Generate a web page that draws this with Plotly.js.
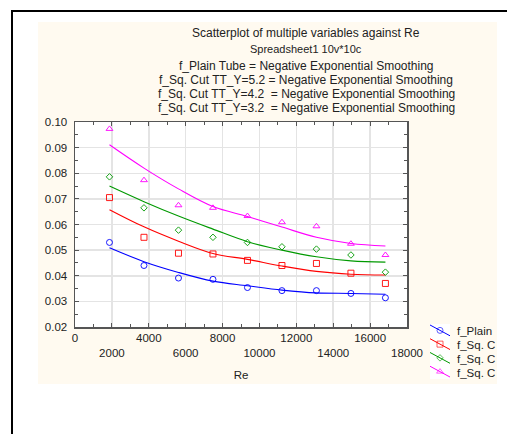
<!DOCTYPE html>
<html>
<head>
<meta charset="utf-8">
<script src="https://cdn.plot.ly/plotly-3.0.1.min.js"></script>
<style>
  html, body { margin: 0; padding: 0; background: #ffffff; }
  #frame { position: absolute; left: 11px; top: 10px; right: 0; bottom: 0; border-left: 2px solid #000; border-top: 2px solid #000; }
  #cream { position: absolute; left: 38px; top: 22px; width: 459px; height: 362px; background: #fffaf0; }
  #chart { position: absolute; left: 0; top: 0; width: 507px; height: 434px; }
</style>
</head>
<body>
<div id="frame"></div>
<div id="cream"></div>
<div id="chart"></div>
<script>
// ---- data ----
const re = [1870, 3740, 5610, 7480, 9350, 11220, 13090, 14960, 16830];

const fPlain = [0.0530, 0.0440, 0.0391, 0.0386, 0.0354, 0.0342, 0.0342, 0.0331, 0.0314];
const fSq52  = [0.0705, 0.0550, 0.0488, 0.0485, 0.0460, 0.0440, 0.0448, 0.0410, 0.0370];
const fSq42  = [0.0786, 0.0665, 0.0578, 0.0550, 0.0530, 0.0513, 0.0504, 0.0481, 0.0414];
const fSq32  = [0.0973, 0.0773, 0.0675, 0.0665, 0.0633, 0.0609, 0.0593, 0.0525, 0.0481];

// negative exponential smoothing curves
const fitPlain = [0.0509, 0.0455, 0.0413, 0.0379, 0.0361, 0.0344, 0.0333, 0.0331, 0.0328];
const fitSq52  = [0.0658, 0.0591, 0.0535, 0.0487, 0.0464, 0.0438, 0.0417, 0.0406, 0.0403];
const fitSq42  = [0.0750, 0.0689, 0.0633, 0.0582, 0.0533, 0.0500, 0.0474, 0.0458, 0.0453];
const fitSq32  = [0.0911, 0.0820, 0.0739, 0.0670, 0.0631, 0.0590, 0.0550, 0.0526, 0.0516];

const legendNames = ["f_Plain", "f_Sq. C", "f_Sq. C", "f_Sq. C"];
const titleLines = [
  "Scatterplot of multiple variables against Re",
  "Spreadsheet1 10v*10c",
  "f_Plain Tube = Negative Exponential Smoothing",
  "f_Sq. Cut TT_Y=5.2 = Negative Exponential Smoothing",
  "f_Sq. Cut TT_Y=4.2  = Negative Exponential Smoothing",
  "f_Sq. Cut TT_Y=3.2  = Negative Exponential Smoothing"
];
const xTickVals = [0, 2000, 4000, 6000, 8000, 10000, 12000, 14000, 16000, 18000];
const xTickText = ["0", "<br>2000", "4000", "<br>6000", "8000", "<br>10000", "12000", "<br>14000", "16000", "<br>18000"];
const yTickVals = [0.02, 0.03, 0.04, 0.05, 0.06, 0.07, 0.08, 0.09, 0.10];

// ---- styling ----
const W = 507, H = 434;
const px = v => v / W, py = v => 1 - v / H;
const colors = ["#0000ff", "#ff0000", "#009900", "#ff00ff"];
const symbols = ["circle-open", "square-open", "diamond-open", "triangle-up-open"];
const msize = [6, 6, 5, 6];
const series = [fPlain, fSq52, fSq42, fSq32];
const fits = [fitPlain, fitSq52, fitSq42, fitSq32];
const FONT = "Liberation Sans, Arial, sans-serif";

const traces = [];
series.forEach((s, i) => {
  traces.push({
    x: re, y: fits[i], type: "scatter", mode: "lines",
    line: { color: colors[i], width: 1.1, shape: "spline", smoothing: 1 },
    showlegend: false, hoverinfo: "skip"
  });
  traces.push({
    x: re, y: s, type: "scatter", mode: "markers",
    marker: { symbol: symbols[i], size: msize[i], color: colors[i], line: { width: 0.9, color: colors[i] } },
    showlegend: false, name: legendNames[i]
  });
});

// custom slanted legend glyphs on a small helper axis
const legStep = 14;
legendNames.forEach((n, i) => {
  traces.push({
    x: [0, 10, 20], y: [i * legStep, i * legStep + 5.5, i * legStep + 11],
    xaxis: "x3", yaxis: "y3", type: "scatter", mode: "lines+markers",
    line: { color: colors[i], width: 1 },
    marker: { symbol: symbols[i], size: [0, msize[i], 0], color: colors[i], line: { width: 0.9, color: colors[i] } },
    showlegend: false, hoverinfo: "skip"
  });
});

const annotations = [];
const titleY = [33, 49.5, 65.5, 80, 94, 108];
const titleSize = [12, 11, 12, 12, 12, 12];
titleLines.forEach((t, i) => {
  annotations.push({
    text: t, xref: "paper", yref: "paper", x: px(306), y: py(titleY[i]),
    xanchor: "center", yanchor: "middle", showarrow: false,
    font: { family: FONT, size: titleSize[i], color: "#222" }
  });
});
legendNames.forEach((n, i) => {
  annotations.push({
    text: n, xref: "paper", yref: "paper", x: px(455), y: py(331 + i * legStep),
    xanchor: "left", yanchor: "middle", showarrow: false,
    font: { family: FONT, size: 11.5, color: "#222" }
  });
});

const layout = {
  width: W, height: H,
  margin: { l: 0, r: 0, t: 0, b: 0 },
  paper_bgcolor: "rgba(0,0,0,0)",
  plot_bgcolor: "#ffffff",
  showlegend: false,
  font: { family: FONT, size: 11, color: "#333" },
  xaxis: {
    domain: [px(75), px(407)],
    range: [0, 18000], autorange: false,
    tickvals: xTickVals, ticktext: xTickText,
    showgrid: true, gridcolor: "#e4e4e4", gridwidth: 1.5,
    zeroline: false,
    showline: true, linecolor: "#555", linewidth: 1.5, mirror: "ticks",
    ticks: "inside", ticklen: 4, tickcolor: "#555",
    minor: { dtick: 1000, ticks: "inside", ticklen: 3, tickcolor: "#555", showgrid: false },
    tickfont: { family: FONT, size: 11.5, color: "#222" },
    title: { text: "Re", font: { family: FONT, size: 11.5, color: "#222" }, standoff: 12 }
  },
  yaxis: {
    domain: [py(327), py(122)],
    range: [0.02, 0.10], autorange: false,
    tickvals: yTickVals, tickformat: ".2f",
    showgrid: true, gridcolor: "#e4e4e4", gridwidth: 1.5,
    zeroline: false,
    showline: true, linecolor: "#555", linewidth: 1.5, mirror: "ticks",
    ticks: "inside", ticklen: 4, tickcolor: "#555",
    minor: { dtick: 0.005, ticks: "inside", ticklen: 3, tickcolor: "#555", showgrid: false },
    tickfont: { family: FONT, size: 11.5, color: "#222" },
    ticklabelstandoff: 4
  },
  xaxis3: { domain: [px(430), px(450)], range: [0, 20], autorange: false, visible: false, anchor: "y3", fixedrange: true },
  yaxis3: { domain: [py(379), py(324)], range: [55, -1], autorange: false, visible: false, anchor: "x3", fixedrange: true },
  annotations: annotations
};

Plotly.newPlot("chart", traces, layout, { displayModeBar: false, staticPlot: true });
</script>
</body>
</html>
